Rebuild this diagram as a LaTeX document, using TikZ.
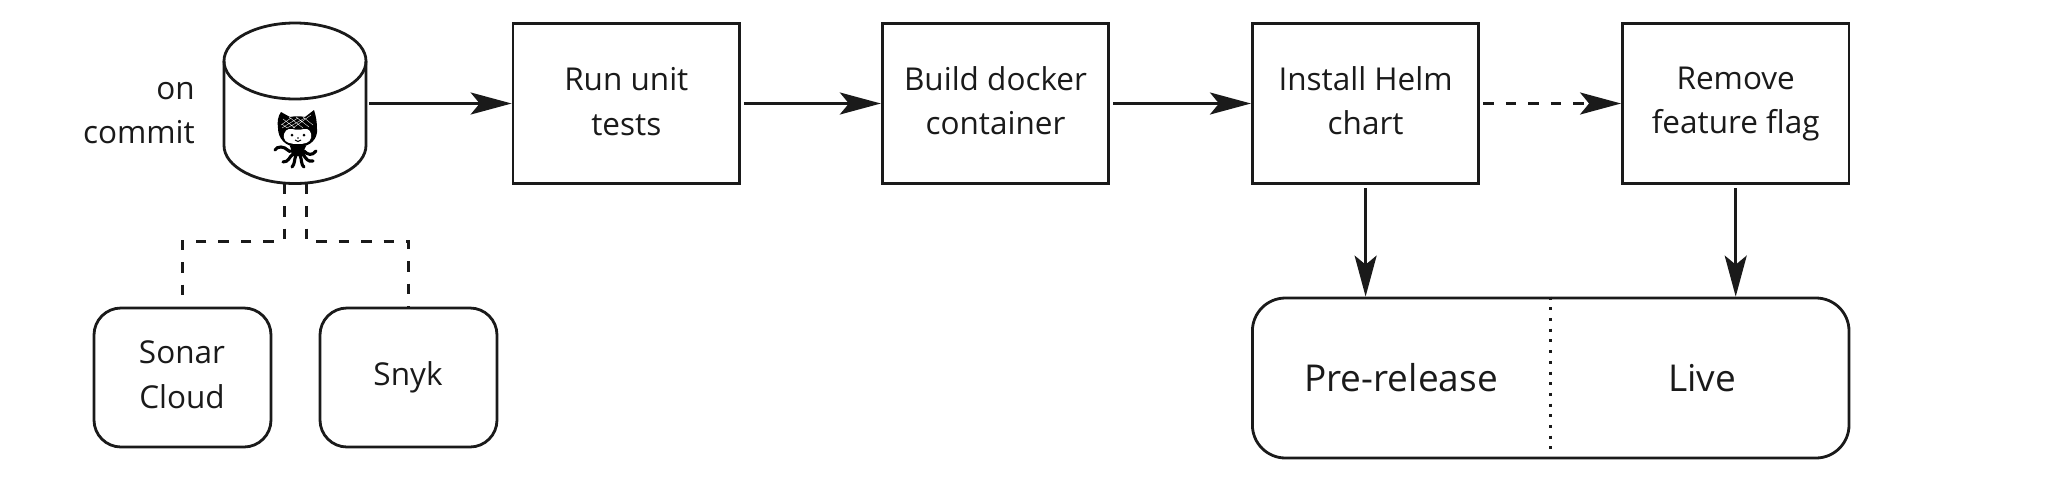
\documentclass[tikz,border=0pt]{standalone}
\usepackage{fontspec}
\setmainfont{Open Sans}
\usetikzlibrary{arrows.meta,positioning}
\definecolor{ink}{HTML}{1A1A1A}
\tikzset{
  x=1pt,y=-1pt,
  line/.style={draw=ink,line width=2.8pt},
  boxn/.style={line,rectangle,minimum width=226.5pt,minimum height=160.5pt,inner sep=0pt},
  rbox/.style={line,rectangle,rounded corners=27pt,inner sep=0pt},
  txt/.style={text=ink,font=\fontsize{31.5}{44.5}\selectfont,align=center,inner sep=0pt},
  big/.style={text=ink,font=\fontsize{37}{44}\selectfont,inner sep=0pt},
  flow/.style={draw=ink,line width=2.8pt,-{Stealth[length=41pt,width=22pt,inset=9pt]}},
  dsh/.style={draw=ink,line width=3pt,dash pattern=on 10.5pt off 12pt},
  tick/.style={line width=1.1pt,draw=black},
}
\begin{document}
\begin{tikzpicture}
\useasboundingbox (0,0) rectangle (2068,483);
\fill[white] (0,0) rectangle (2068,483);
% repository
\node[inner sep=0pt,minimum width=142pt,minimum height=160pt] (repo) at (295,103.5) {};
\draw[line] (224,61) arc[start angle=180,end angle=0,x radius=71,y radius=-38]
  -- (366,145.5) arc[start angle=0,end angle=-180,x radius=71,y radius=-38] -- cycle;
\draw[line] (224,61) arc[start angle=180,end angle=360,x radius=71,y radius=-38] ;
% octocat
\begin{scope}[shift={(297,136)}]
  \fill[black] (-19,-8) .. controls (-20,-14) and (-19,-20) .. (-16,-24) -- (-7,-19)
     .. controls (-2,-20) and (3,-20) .. (8,-19) -- (17,-26)
     .. controls (19,-20) and (20,-14) .. (20,-7)
     .. controls (21,2) and (14,11) .. (1,11) .. controls (-12,11) and (-19,2) .. (-19,-8) -- cycle;
  \fill[white] (-13,2) .. controls (-14,-5) and (-9,-8) .. (-5,-7) .. controls (-1,-6) and (3,-6) .. (7,-7)
     .. controls (12,-8) and (15,-4) .. (14,2) .. controls (13,7) and (7,8) .. (1,8) .. controls (-6,8) and (-12,7) .. (-13,2) -- cycle;
  \draw[white,line width=.35pt] (-14,-17) -- (-2,-8) (-8,-19) -- (6,-8) (-1,-19) -- (12,-9) (6,-19) -- (16,-11)
     (-15,-12) -- (-10,-8) (14,-21) -- (-4,-8) (8,-18) -- (-10,-8) (1,-18) -- (-15,-8) (-6,-18) -- (-16,-11);
  \fill (-5,-1) circle[radius=1.5] (7,-1) circle[radius=1.5] (1,2) circle[radius=.8];
  \draw[tick] (-2,4) .. controls (0,6) and (2,6) .. (4,4);
  \fill[black] (-7,10) .. controls (-5,15) and (-5,19) .. (-5,20) -- (7,20) .. controls (6,17) and (7,14) .. (9,10) -- cycle;
  \draw[line width=3.1pt,line cap=round,black]
    (-5,15) .. controls (-9,17) and (-10,11) .. (-16,11) .. controls (-19,11) and (-21,12) .. (-22,14)
    (-4,18) .. controls (-8,21) and (-8,26) .. (-14,26)
    (-1,19) .. controls (-3,24) and (-2,28) .. (-5,31)
    (3,19) .. controls (5,24) and (4,29) .. (7,31)
    (6,18) .. controls (9,23) and (11,26) .. (16,25)
    (7,15) .. controls (11,19) and (15,20) .. (19,15);
\end{scope}
\node[txt,align=right,anchor=east] (on) at (195,113) {on\\commit};
% steps
\node[boxn] (b1) at (626.3,103.5) {};
\node[boxn] (b2) at (995.5,103.5) {};
\node[boxn] (b3) at (1365.6,103.5) {};
\node[boxn] (b4) at (1735.7,103.5) {};
\node[txt] (t1) at (626.3,101.5) {Run unit\\tests};
\node[txt] (t2) at (995.5,100.5) {Build docker\\container};
\node[txt] (t3) at (1365.6,100.5) {Install Helm\\chart};
\node[txt] (t4) at (1735.7,104) {Remove\\feature flag};
\draw[flow,shorten <=3pt] (repo.east |- b1.west) -- (b1.west);
\draw[flow,shorten <=3pt] (b1) -- (b2);
\draw[flow,shorten <=3pt] (b2) -- (b3);
\draw[flow,dash pattern=on 10.5pt off 12pt,shorten <=3pt] (b3) -- (b4);
% tools
\node[rbox,minimum width=177pt,minimum height=139pt] (sonar) at (182.5,377.5) {};
\node[rbox,minimum width=177pt,minimum height=139pt] (snyk) at (408.5,377.5) {};
\node[txt] (ts) at (182,374.5) {Sonar\\Cloud};
\node[txt] (tk) at (408,377.5) {Snyk};
\coordinate (jl) at (284,241);
\coordinate (jr) at (306,241);
\draw[dsh] (jl |- repo.south) -- (jl) -- (jl -| sonar.north) -- (sonar.north);
\draw[dsh] (jr |- repo.south) -- (jr) -- (jr -| snyk.north) -- (snyk.north);
% environments
\node[rbox,rounded corners=33pt,minimum width=596.6pt,minimum height=160pt] (env) at (1550.7,378) {};
\coordinate (dv) at (1550.4,378);
\draw[draw=ink,line width=3pt,dash pattern=on 3pt off 7.7pt] (dv |- env.north) -- (dv |- env.south);
\node[big] (pre) at (1401,378) {Pre-release};
\node[big] (live) at (1702,378) {Live};
\draw[flow,shorten <=3pt] (b3.south) -- (b3.south |- env.north);
\draw[flow,shorten <=3pt] (b4.south) -- (b4.south |- env.north);
\end{tikzpicture}
\end{document}
